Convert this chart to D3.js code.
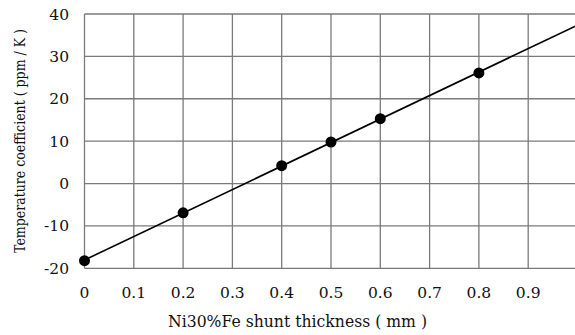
<!DOCTYPE html>
<html>
<head>
<meta charset="utf-8">
<script src="https://cdn.jsdelivr.net/npm/d3@7/dist/d3.min.js"></script>
</head>
<body style="margin:0">
<svg id="chart" width="575" height="335"></svg>
<script>
// Measured temperature coefficient vs. shunt thickness
const thickness = [0, 0.2, 0.4, 0.5, 0.6, 0.8];
const tempCoef = [-18.2, -6.9, 4.2, 9.8, 15.3, 26.1];

const xTicks = [0, 0.1, 0.2, 0.3, 0.4, 0.5, 0.6, 0.7, 0.8, 0.9];
const yTicks = [-20, -10, 0, 10, 20, 30, 40];
const xDomain = [0, 1];
const yDomain = [-20, 40];

const serif = `"DejaVu Serif"`;

const svg = d3.select("#chart");
const margin = { left: 84.5, top: 14, right: 577.5, bottom: 268.3 };

const x = d3.scaleLinear().domain(xDomain).range([margin.left, margin.right]);
const y = d3.scaleLinear().domain(yDomain).range([margin.bottom, margin.top]);

const gridColor = "#7a7a7a";

// vertical grid lines
svg.append("g").selectAll("line").data(xTicks).join("line")
  .attr("x1", d => x(d)).attr("x2", d => x(d))
  .attr("y1", y(yDomain[0])).attr("y2", y(yDomain[1]))
  .attr("stroke", gridColor).attr("stroke-width", 1.3);

// horizontal grid lines
svg.append("g").selectAll("line").data(yTicks).join("line")
  .attr("x1", x(xDomain[0])).attr("x2", x(xDomain[1]))
  .attr("y1", d => y(d)).attr("y2", d => y(d))
  .attr("stroke", gridColor).attr("stroke-width", 1.3);

// x tick labels
svg.append("g").selectAll("text").data(xTicks).join("text")
  .attr("x", d => x(d)).attr("y", 298)
  .attr("text-anchor", "middle")
  .attr("font-size", 15.5)
  .style("font-family", serif)
  .attr("fill", "#111")
  .text(d => d === 0 ? "0" : d.toFixed(1));

// y tick labels
svg.append("g").selectAll("text").data(yTicks).join("text")
  .attr("x", 69).attr("y", d => y(d) + 5.5)
  .attr("text-anchor", "end")
  .attr("font-size", 15.5)
  .style("font-family", serif)
  .attr("fill", "#111")
  .text(d => d);

// least-squares line through the measurements
const mx = d3.mean(thickness), my = d3.mean(tempCoef);
const slope = d3.sum(thickness, (t, i) => (t - mx) * (tempCoef[i] - my)) /
              d3.sum(thickness, t => (t - mx) * (t - mx));
const intercept = my - slope * mx;

svg.append("line")
  .attr("x1", x(xDomain[0])).attr("y1", y(intercept))
  .attr("x2", x(xDomain[1])).attr("y2", y(intercept + slope * xDomain[1]))
  .attr("stroke", "#000").attr("stroke-width", 1.6);

// measured points
svg.append("g").selectAll("circle").data(thickness).join("circle")
  .attr("cx", d => x(d)).attr("cy", (d, i) => y(tempCoef[i]))
  .attr("r", 5.5).attr("fill", "#000");

// axis titles
svg.append("text")
  .attr("x", 297.5).attr("y", 327)
  .attr("text-anchor", "middle")
  .attr("font-size", 16)
  .attr("textLength", 259).attr("lengthAdjust", "spacingAndGlyphs")
  .style("font-family", serif)
  .attr("fill", "#111")
  .text("Ni30%Fe shunt thickness ( mm )");

svg.append("text")
  .attr("transform", "translate(25,141) rotate(-90)")
  .attr("text-anchor", "middle")
  .attr("font-size", 15.5)
  .attr("textLength", 224).attr("lengthAdjust", "spacingAndGlyphs")
  .style("font-family", serif)
  .attr("fill", "#111")
  .text("Temperature coefficient ( ppm / K )");
</script>
</body>
</html>
